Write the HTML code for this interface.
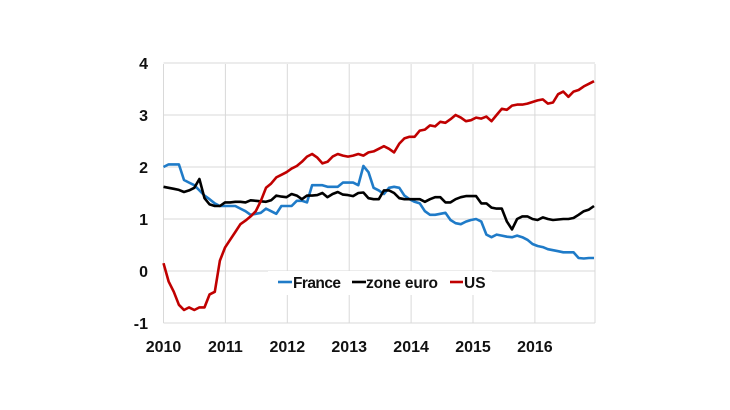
<!DOCTYPE html>
<html><head><meta charset="utf-8"><style>
body{margin:0;background:#fff;}
svg{display:block;font-family:"Liberation Sans",sans-serif;}
</style></head><body>
<svg id="s" width="730" height="410" viewBox="0 0 730 410">
<rect width="730" height="410" fill="#fff"/>
<g id="grid" stroke="#d9d9d9" stroke-width="1"></g>
<g id="lines" fill="none" stroke-width="2.6" stroke-linejoin="round"></g>
<rect x="268" y="271" width="224" height="24" fill="#fff"/>
<g font-size="15.5" font-weight="bold" fill="#111">
<line x1="278" y1="282" x2="292" y2="282" stroke="#1f7bc8" stroke-width="2.6"/>
<text x="293" y="288" textLength="48">France</text>
<line x1="352" y1="282" x2="366" y2="282" stroke="#000" stroke-width="2.6"/>
<text x="366" y="288" textLength="72">zone euro</text>
<line x1="450" y1="282" x2="463" y2="282" stroke="#c00000" stroke-width="2.6"/>
<text x="464" y="288">US</text>
</g>
<g id="labels" font-size="16" font-weight="bold" fill="#111"></g>
</svg>
<script>
(function(){
var L=163.5,R=595,T=64,unit=52,y0=271,yr=61.9;
function Y(v){return y0-unit*v;}
var g=document.getElementById('grid'),lb=document.getElementById('labels'),ln=document.getElementById('lines');
var ns='http://www.w3.org/2000/svg';
function el(p,t,a,txt){var e=document.createElementNS(ns,t);for(var k in a)e.setAttribute(k,a[k]);if(txt)e.textContent=txt;p.appendChild(e);return e;}
for(var v=-1;v<=4;v++){el(g,'line',{x1:L,x2:R,y1:Y(v),y2:Y(v)});el(lb,'text',{x:148,y:Y(v)+6,'text-anchor':'end'},String(v));}
for(var i=0;i<=7;i++){var x=L+i*yr;if(i==7)x=R;el(g,'line',{x1:x,x2:x,y1:T,y2:Y(-1)});if(i<7)el(lb,'text',{x:x,y:352,'text-anchor':'middle'},String(2010+i));}
var us=[0.15,-0.2,-0.4,-0.65,-0.75,-0.7,-0.75,-0.7,-0.7,-0.45,-0.4,0.2,
0.45,0.6,0.75,0.9,0.97,1.05,1.15,1.35,1.6,1.68,1.8,1.85,
1.9,1.97,2.02,2.1,2.2,2.25,2.18,2.07,2.1,2.2,2.25,2.22,
2.2,2.22,2.25,2.22,2.28,2.3,2.35,2.4,2.35,2.28,2.45,2.55,
2.58,2.58,2.7,2.72,2.8,2.78,2.87,2.85,2.92,3.0,2.95,2.88,
2.9,2.95,2.93,2.97,2.88,3.0,3.12,3.1,3.18,3.2,3.2,3.22,
3.25,3.28,3.3,3.22,3.24,3.4,3.45,3.35,3.45,3.48,3.55,3.6,3.65];
var fr=[2.0,2.05,2.05,2.05,1.75,1.7,1.65,1.55,1.45,1.38,1.3,1.25,
1.25,1.25,1.25,1.2,1.15,1.08,1.1,1.12,1.2,1.15,1.1,1.25,
1.25,1.25,1.35,1.35,1.32,1.65,1.65,1.65,1.62,1.62,1.62,1.7,
1.7,1.7,1.65,2.02,1.9,1.6,1.55,1.48,1.6,1.62,1.6,1.45,
1.38,1.33,1.3,1.15,1.08,1.08,1.1,1.12,0.98,0.92,0.9,0.95,
0.98,1.0,0.95,0.7,0.65,0.7,0.68,0.66,0.65,0.68,0.65,0.6,
0.52,0.48,0.46,0.42,0.4,0.38,0.36,0.36,0.36,0.25,0.24,0.25,0.25];
var eu=[1.62,1.6,1.58,1.56,1.52,1.55,1.6,1.77,1.4,1.28,1.25,1.25,
1.32,1.32,1.33,1.33,1.32,1.36,1.35,1.34,1.33,1.36,1.45,1.43,
1.42,1.48,1.45,1.38,1.45,1.45,1.46,1.5,1.42,1.48,1.52,1.47,
1.46,1.44,1.5,1.51,1.4,1.38,1.38,1.55,1.55,1.5,1.4,1.38,
1.38,1.38,1.38,1.33,1.38,1.42,1.42,1.32,1.32,1.38,1.42,1.44,
1.44,1.44,1.3,1.3,1.22,1.2,1.2,0.95,0.8,1.0,1.05,1.05,
1.0,0.98,1.03,1.0,0.98,0.99,1.0,1.0,1.02,1.08,1.15,1.18,1.25];
function pl(d,c){var n=d.length,pts=[];for(var i=0;i<n;i++){pts.push((L+(R-L-1)*i/(n-1)).toFixed(1)+','+Y(d[i]).toFixed(1));}el(ln,'polyline',{points:pts.join(' '),stroke:c});}
pl(fr,'#1f7bc8');pl(eu,'#000');pl(us,'#c00000');
})();
</script>
</body></html>
